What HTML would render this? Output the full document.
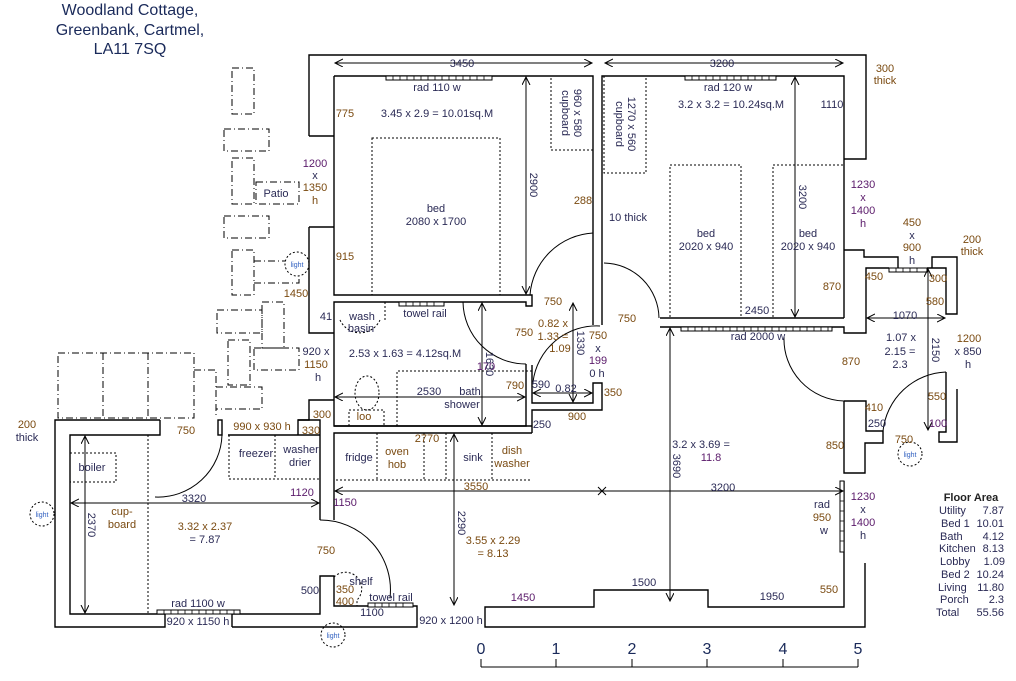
<!DOCTYPE html>
<html><head><meta charset="utf-8"><style>
html,body{margin:0;padding:0;background:#fff;}
svg{display:block;font-family:"Liberation Sans",sans-serif;}
text{font-size:11px;fill:#2a2a55;}
.o{fill:#7a4a10;}
.p{fill:#5a1a6a;}
.t{font-size:16px;fill:#1a2a5a;}
.s{font-size:7px;fill:#3060c0;}
</style></head><body>
<svg width="1016" height="681" viewBox="0 0 1016 681" xmlns="http://www.w3.org/2000/svg">
<defs>
<marker id="a" markerWidth="10" markerHeight="10" refX="8" refY="4" orient="auto-start-reverse" markerUnits="userSpaceOnUse">
<path d="M0,0 L8,4 L0,8" fill="none" stroke="#000" stroke-width="1"/></marker>
</defs>
<text class="t" x="130" y="15" text-anchor="middle">Woodland Cottage,</text>
<text class="t" x="130" y="35" text-anchor="middle">Greenbank,  Cartmel,</text>
<text class="t" x="130" y="54" text-anchor="middle">LA11 7SQ</text>

<g fill="none" stroke="#000" stroke-width="1" stroke-dasharray="7,3,1,3">
<rect x="232" y="68" width="22" height="46"/>
<rect x="224" y="129" width="45" height="22"/>
<rect x="232" y="158" width="22" height="46"/>
<rect x="256" y="182" width="43" height="22"/>
<rect x="224" y="216" width="45" height="22"/>
<rect x="232" y="250" width="22" height="45"/>
<path d="M254,261 H285 M254,283 H299 V276"/>
<rect x="217" y="310" width="45" height="23"/>
<rect x="262" y="302" width="22" height="46"/>
<rect x="228" y="340" width="22" height="45"/>
<rect x="254" y="348" width="45" height="22"/>
<rect x="58" y="353" width="136" height="65"/>
<path d="M103,353 V418 M148,353 V418 M194,370 H216 V418 M216,387 H262 V409 H216"/>
</g>

<g fill="none" stroke="#000" stroke-width="1.4">
<path d="M309,136 V55 H866 V159 H844"/>
<path d="M334,76 H593 V325 M602,325 V76 H844 V318"/>
<path d="M334,76 V295 H532 V306 H526 V302 H334 V426 H526 V364"/>
<path d="M309,136 H334 M309,227 H334 M309,227 V333 H334 M334,400 H309 V420 H298 V435"/>
<path d="M660,318 H844 M660,327 H844 V333 H866 V268 H889"/>
<path d="M844,250 H864 V257 H898 V268 M932,268 V257 H957 V314 H946 V268 H927"/>
<path d="M957,389 V442 H939 V432 H946 V372"/>
<path d="M844,401 H866 V431 H883 V443 H865 V473 H844 V401"/>
<path d="M844,481 V607 H708 V590 H594 V607 H485 V627 H865 V563"/>
<path d="M532,365 V403 H593 V383 H602 V410 H532 V433"/>
<path d="M334,520 V433 H532 M334,426 H532"/>
<path d="M160,420 H55 V627 H165 V614 H70 V435 H160 V420 M232,627 V614 H320 V576 H334 V606 H417 V627 H232"/>
<path d="M228,435 H320 V520 M298,420 H320 V435"/>
<rect x="218" y="420" width="4" height="15"/>
</g>

<g fill="#fff" stroke="#000" stroke-width="1">
<rect x="386" y="76" width="106" height="4"/><rect x="685" y="76" width="91" height="4"/>
<rect x="681" y="327" width="151" height="4"/><rect x="399" y="302" width="45" height="4"/>
<rect x="368" y="603" width="45" height="4"/><rect x="157" y="610" width="83" height="4"/>
<rect x="889" y="268" width="38" height="4"/><rect x="840" y="481" width="4" height="71"/>
</g>
<g stroke="#000" stroke-width="0.8">
<path d="M393,76v4M400,76v4M407,76v4M414,76v4M421,76v4M428,76v4M435,76v4M442,76v4M449,76v4M456,76v4M463,76v4M470,76v4M477,76v4M484,76v4"/>
<path d="M692,76v4M699,76v4M706,76v4M713,76v4M720,76v4M727,76v4M734,76v4M741,76v4M748,76v4M755,76v4M762,76v4M769,76v4"/>
<path d="M688,327v4M695,327v4M702,327v4M709,327v4M716,327v4M723,327v4M730,327v4M737,327v4M744,327v4M751,327v4M758,327v4M765,327v4M772,327v4M779,327v4M786,327v4M793,327v4M800,327v4M807,327v4M814,327v4M821,327v4M828,327v4"/>
<path d="M406,302v4M413,302v4M420,302v4M427,302v4M434,302v4M375,603v4M382,603v4M389,603v4M396,603v4M403,603v4"/>
<path d="M164,610v4M171,610v4M178,610v4M185,610v4M192,610v4M199,610v4M206,610v4M213,610v4M220,610v4M227,610v4M234,610v4"/>
<path d="M896,268v4M903,268v4M910,268v4M917,268v4M840,491h4M840,501h4M840,511h4M840,521h4M840,531h4M840,541h4"/>
</g>

<g fill="none" stroke="#000" stroke-width="1" stroke-dasharray="2,2">
<rect x="372" y="138" width="128" height="157"/>
<rect x="551" y="76" width="42" height="74"/>
<rect x="604" y="76" width="42" height="97"/>
<rect x="670" y="165" width="71" height="153"/>
<rect x="773" y="165" width="71" height="153"/>
<path d="M340,320 A22,22 0 0 0 380,320 M385,302 V320"/>
<path d="M397,426 V371 H532"/>
<ellipse cx="367" cy="393" rx="12" ry="17"/>
<path d="M349,426 V410 H384 V426"/>
<path d="M336,480 H532 M377,433 V480 M424,433 V480 M446,433 V480 M492,433 V480"/>
<rect x="229" y="435" width="91" height="44"/><path d="M275,435 V479"/>
<path d="M70,453 H116 V482 H70"/>
<path d="M148,435 V614"/>
<path d="M334,577 A14,14 0 0 1 357,600 V606"/>
<circle cx="297" cy="264" r="12"/><circle cx="42" cy="514" r="12"/>
<circle cx="333" cy="635" r="12"/><circle cx="910" cy="454" r="12"/>
</g>

<g fill="none" stroke="#000" stroke-width="1">
<path d="M593,233 A67,67 0 0 0 530,295"/>
<path d="M463,302 A63,63 0 0 0 526,364"/>
<path d="M533,382 A64,64 0 0 1 600,326"/>
<path d="M604,263 A56,56 0 0 1 659,318"/>
<path d="M784,337 A62,62 0 0 0 844,401"/>
<path d="M946,372 A66,66 0 0 0 883,431"/>
<path d="M320,520 A70,70 0 0 1 390,598"/>
<path d="M222,435 A64,64 0 0 1 155,497"/>
</g>

<g stroke="#000" stroke-width="1" marker-start="url(#a)" marker-end="url(#a)" fill="none">
<path d="M335,63 H592"/><path d="M605,63 H843"/>
<path d="M526,77 V294"/><path d="M795,77 V317"/>
<path d="M867,318 H945"/><path d="M928,269 V430"/>
<path d="M482,303 V425"/><path d="M335,397 H525"/>
<path d="M573,303 V402"/><path d="M533,393 H592"/>
<path d="M335,491 H843"/><path d="M454,434 V605"/>
<path d="M670,328 V601"/><path d="M71,503 H319"/><path d="M85,436 V613"/>
</g>
<path d="M598,487 l8,8 M606,487 l-8,8" stroke="#000"/>

<g stroke="#000" stroke-width="1"><path d="M481,667 H858 M481,659 V667 M556,659 V667 M632,659 V667 M707,659 V667 M783,659 V667 M858,659 V667"/></g>
<text class="t" x="481" y="654" text-anchor="middle">0</text><text class="t" x="556" y="654" text-anchor="middle">1</text><text class="t" x="632" y="654" text-anchor="middle">2</text><text class="t" x="707" y="654" text-anchor="middle">3</text><text class="t" x="783" y="654" text-anchor="middle">4</text><text class="t" x="858" y="654" text-anchor="middle">5</text>

<g text-anchor="middle">
<text x="462" y="67">3450</text><text x="722" y="67">3200</text>
<text x="437" y="91">rad 110 w</text><text class="o" x="345" y="117">775</text>
<text x="437" y="117">3.45 x 2.9 = 10.01sq.M</text>
<text x="436" y="212">bed</text><text x="436" y="225">2080 x 1700</text>
<text class="o" x="345" y="260">915</text><text class="o" x="583" y="204">288</text>
<text transform="translate(530,185) rotate(90)">2900</text>
<text transform="translate(562,113) rotate(90)">cupboard</text>
<text transform="translate(574,113) rotate(90)">960 x 580</text>
<text transform="translate(616,124) rotate(90)">cupboard</text>
<text transform="translate(628,124) rotate(90)">1270  x  560</text>
<text x="628" y="221">10 thick</text>
<text x="728" y="91">rad 120 w</text><text x="731" y="108">3.2 x 3.2 = 10.24sq.M</text>
<text x="832" y="108">1110</text>
<text x="706" y="237">bed</text><text x="706" y="250">2020 x 940</text>
<text x="808" y="237">bed</text><text x="808" y="250">2020 x 940</text>
<text transform="translate(799,197) rotate(90)">3200</text>
<text class="o" x="832" y="290">870</text><text x="757" y="314">2450</text>
<text x="758" y="340">rad 2000 w</text>
<text class="o" x="885" y="72">300</text><text class="o" x="885" y="84">thick</text>
<text class="p" x="863" y="188">1230</text><text class="p" x="863" y="201">x</text><text class="p" x="863" y="214">1400</text><text class="p" x="863" y="227">h</text>
<text class="o" x="912" y="226">450</text><text x="912" y="239">x</text><text class="o" x="912" y="251">900</text><text x="912" y="264">h</text>
<text class="o" x="972" y="243">200</text><text class="o" x="972" y="255">thick</text>
<text class="o" x="874" y="280">450</text><text class="o" x="938" y="282">300</text><text class="o" x="935" y="305">580</text>
<text x="905" y="319">1070</text>
<text x="901" y="341">1.07 x</text><text x="900" y="355">2.15 =</text><text x="900" y="368">2.3</text>
<text transform="translate(932,350) rotate(90)">2150</text>
<text class="o" x="969" y="342">1200</text><text x="968" y="355">x 850</text><text x="968" y="368">h</text>
<text class="o" x="851" y="365">870</text><text class="o" x="627" y="322">750</text>
<text class="o" x="874" y="411">410</text><text x="877" y="427">250</text>
<text class="o" x="937" y="400">550</text><text class="p" x="938" y="427">100</text>
<text class="o" x="904" y="443">750</text>
<text class="s" x="910" y="457">light</text><text class="s" x="297" y="267">light</text>
<text class="s" x="42" y="517">light</text><text class="s" x="333" y="638">light</text>
<text class="o" x="835" y="449">850</text>
<text x="701" y="448">3.2 x 3.69 =</text><text class="p" x="711" y="461">11.8</text>
<text transform="translate(673,466) rotate(90)">3690</text>
<text x="723" y="491">3200</text>
<text x="822" y="508">rad</text><text class="o" x="822" y="521">950</text><text x="824" y="534">w</text>
<text class="p" x="863" y="500">1230</text><text x="863" y="513">x</text><text class="p" x="863" y="526">1400</text><text x="863" y="539">h</text>
<text x="644" y="586">1500</text><text x="772" y="600">1950</text><text class="o" x="829" y="593">550</text>
<text x="326" y="320">41</text><text x="362" y="320">wash</text><text x="361" y="332">basin</text>
<text x="425" y="317">towel rail</text>
<text x="405" y="357">2.53 x 1.63 = 4.12sq.M</text>
<text class="p" x="486" y="370">170</text>
<text transform="translate(486,364) rotate(90)">1630</text>
<text x="429" y="395">2530</text><text x="470" y="395">bath</text><text x="462" y="408">shower</text>
<text class="o" x="364" y="420">loo</text><text class="o" x="515" y="389">790</text>
<text class="o" x="322" y="418">300</text><text class="o" x="311" y="434">330</text>
<text class="o" x="553" y="305">750</text><text class="o" x="524" y="336">750</text>
<text class="o" x="553" y="327">0.82 x</text><text class="o" x="553" y="340">1.33 =</text><text class="o" x="560" y="352">1.09</text>
<text transform="translate(577,343) rotate(90)">1330</text>
<text class="o" x="598" y="339">750</text><text x="598" y="352">x</text><text class="p" x="598" y="364">199</text><text x="597" y="377">0 h</text>
<text x="541" y="388">590</text><text x="566" y="392">0.82</text>
<text class="o" x="613" y="396">350</text><text class="o" x="577" y="420">900</text><text x="542" y="428">250</text>
<text class="o" x="427" y="442">2770</text><text x="359" y="461">fridge</text>
<text class="o" x="397" y="455">oven</text><text class="o" x="397" y="468">hob</text>
<text x="473" y="461">sink</text><text class="o" x="512" y="454">dish</text><text class="o" x="512" y="467">washer</text>
<text class="o" x="476" y="490">3550</text><text class="p" x="345" y="506">1150</text>
<text transform="translate(458,523) rotate(90)">2290</text>
<text class="o" x="493" y="544">3.55 x 2.29</text><text class="o" x="493" y="557">= 8.13</text>
<text class="o" x="326" y="554">750</text><text x="361" y="585">shelf</text>
<text class="o" x="345" y="593">350</text><text class="o" x="345" y="605">400</text>
<text x="391" y="601">towel rail</text><text x="372" y="616">1100</text>
<text x="310" y="594">500</text><text class="p" x="523" y="601">1450</text>
<text x="451" y="624">920 x 1200 h</text>
<text class="o" x="27" y="428">200</text><text x="27" y="441">thick</text>
<text class="o" x="186" y="434">750</text><text class="o" x="262" y="430">990 x 930 h</text>
<text x="256" y="457">freezer</text><text x="301" y="453">washer</text><text x="300" y="466">drier</text>
<text x="92" y="471">boiler</text><text x="194" y="502">3320</text><text class="p" x="302" y="496">1120</text>
<text class="o" x="122" y="515">cup-</text><text class="o" x="122" y="528">board</text>
<text class="o" x="205" y="530">3.32 x 2.37</text><text x="205" y="543">= 7.87</text>
<text transform="translate(88,525) rotate(90)">2370</text>
<text x="198" y="607">rad 1100 w</text><text x="198" y="625">920 x 1150 h</text>
<text class="p" x="315" y="167">1200</text><text x="315" y="179">x</text><text class="o" x="315" y="191">1350</text><text class="o" x="315" y="204">h</text>
<text x="276" y="197">Patio</text><text class="o" x="296" y="297">1450</text>
<text x="316" y="355">920 x</text><text class="o" x="316" y="368">1150</text><text x="318" y="381">h</text>
<text x="971" y="501" style="font-weight:bold;fill:#222">Floor Area</text>
</g>
<g style="font-size:10.5px">
<text x="939" y="514">Utility</text><text x="941" y="527">Bed 1</text><text x="940" y="540">Bath</text><text x="939" y="552">Kitchen</text><text x="940" y="565">Lobby</text><text x="941" y="578">Bed 2</text><text x="938" y="591">Living</text><text x="940" y="603">Porch</text><text x="936" y="616">Total</text>
</g>
<g text-anchor="end" style="font-size:10.5px">
<text x="1004" y="514">7.87</text><text x="1004" y="527">10.01</text><text x="1004" y="540">4.12</text><text x="1004" y="552">8.13</text><text x="1005" y="565">1.09</text><text x="1004" y="578">10.24</text><text x="1004" y="591">11.80</text><text x="1004" y="603">2.3</text><text x="1004" y="616">55.56</text>
</g>
</svg>
</body></html>
